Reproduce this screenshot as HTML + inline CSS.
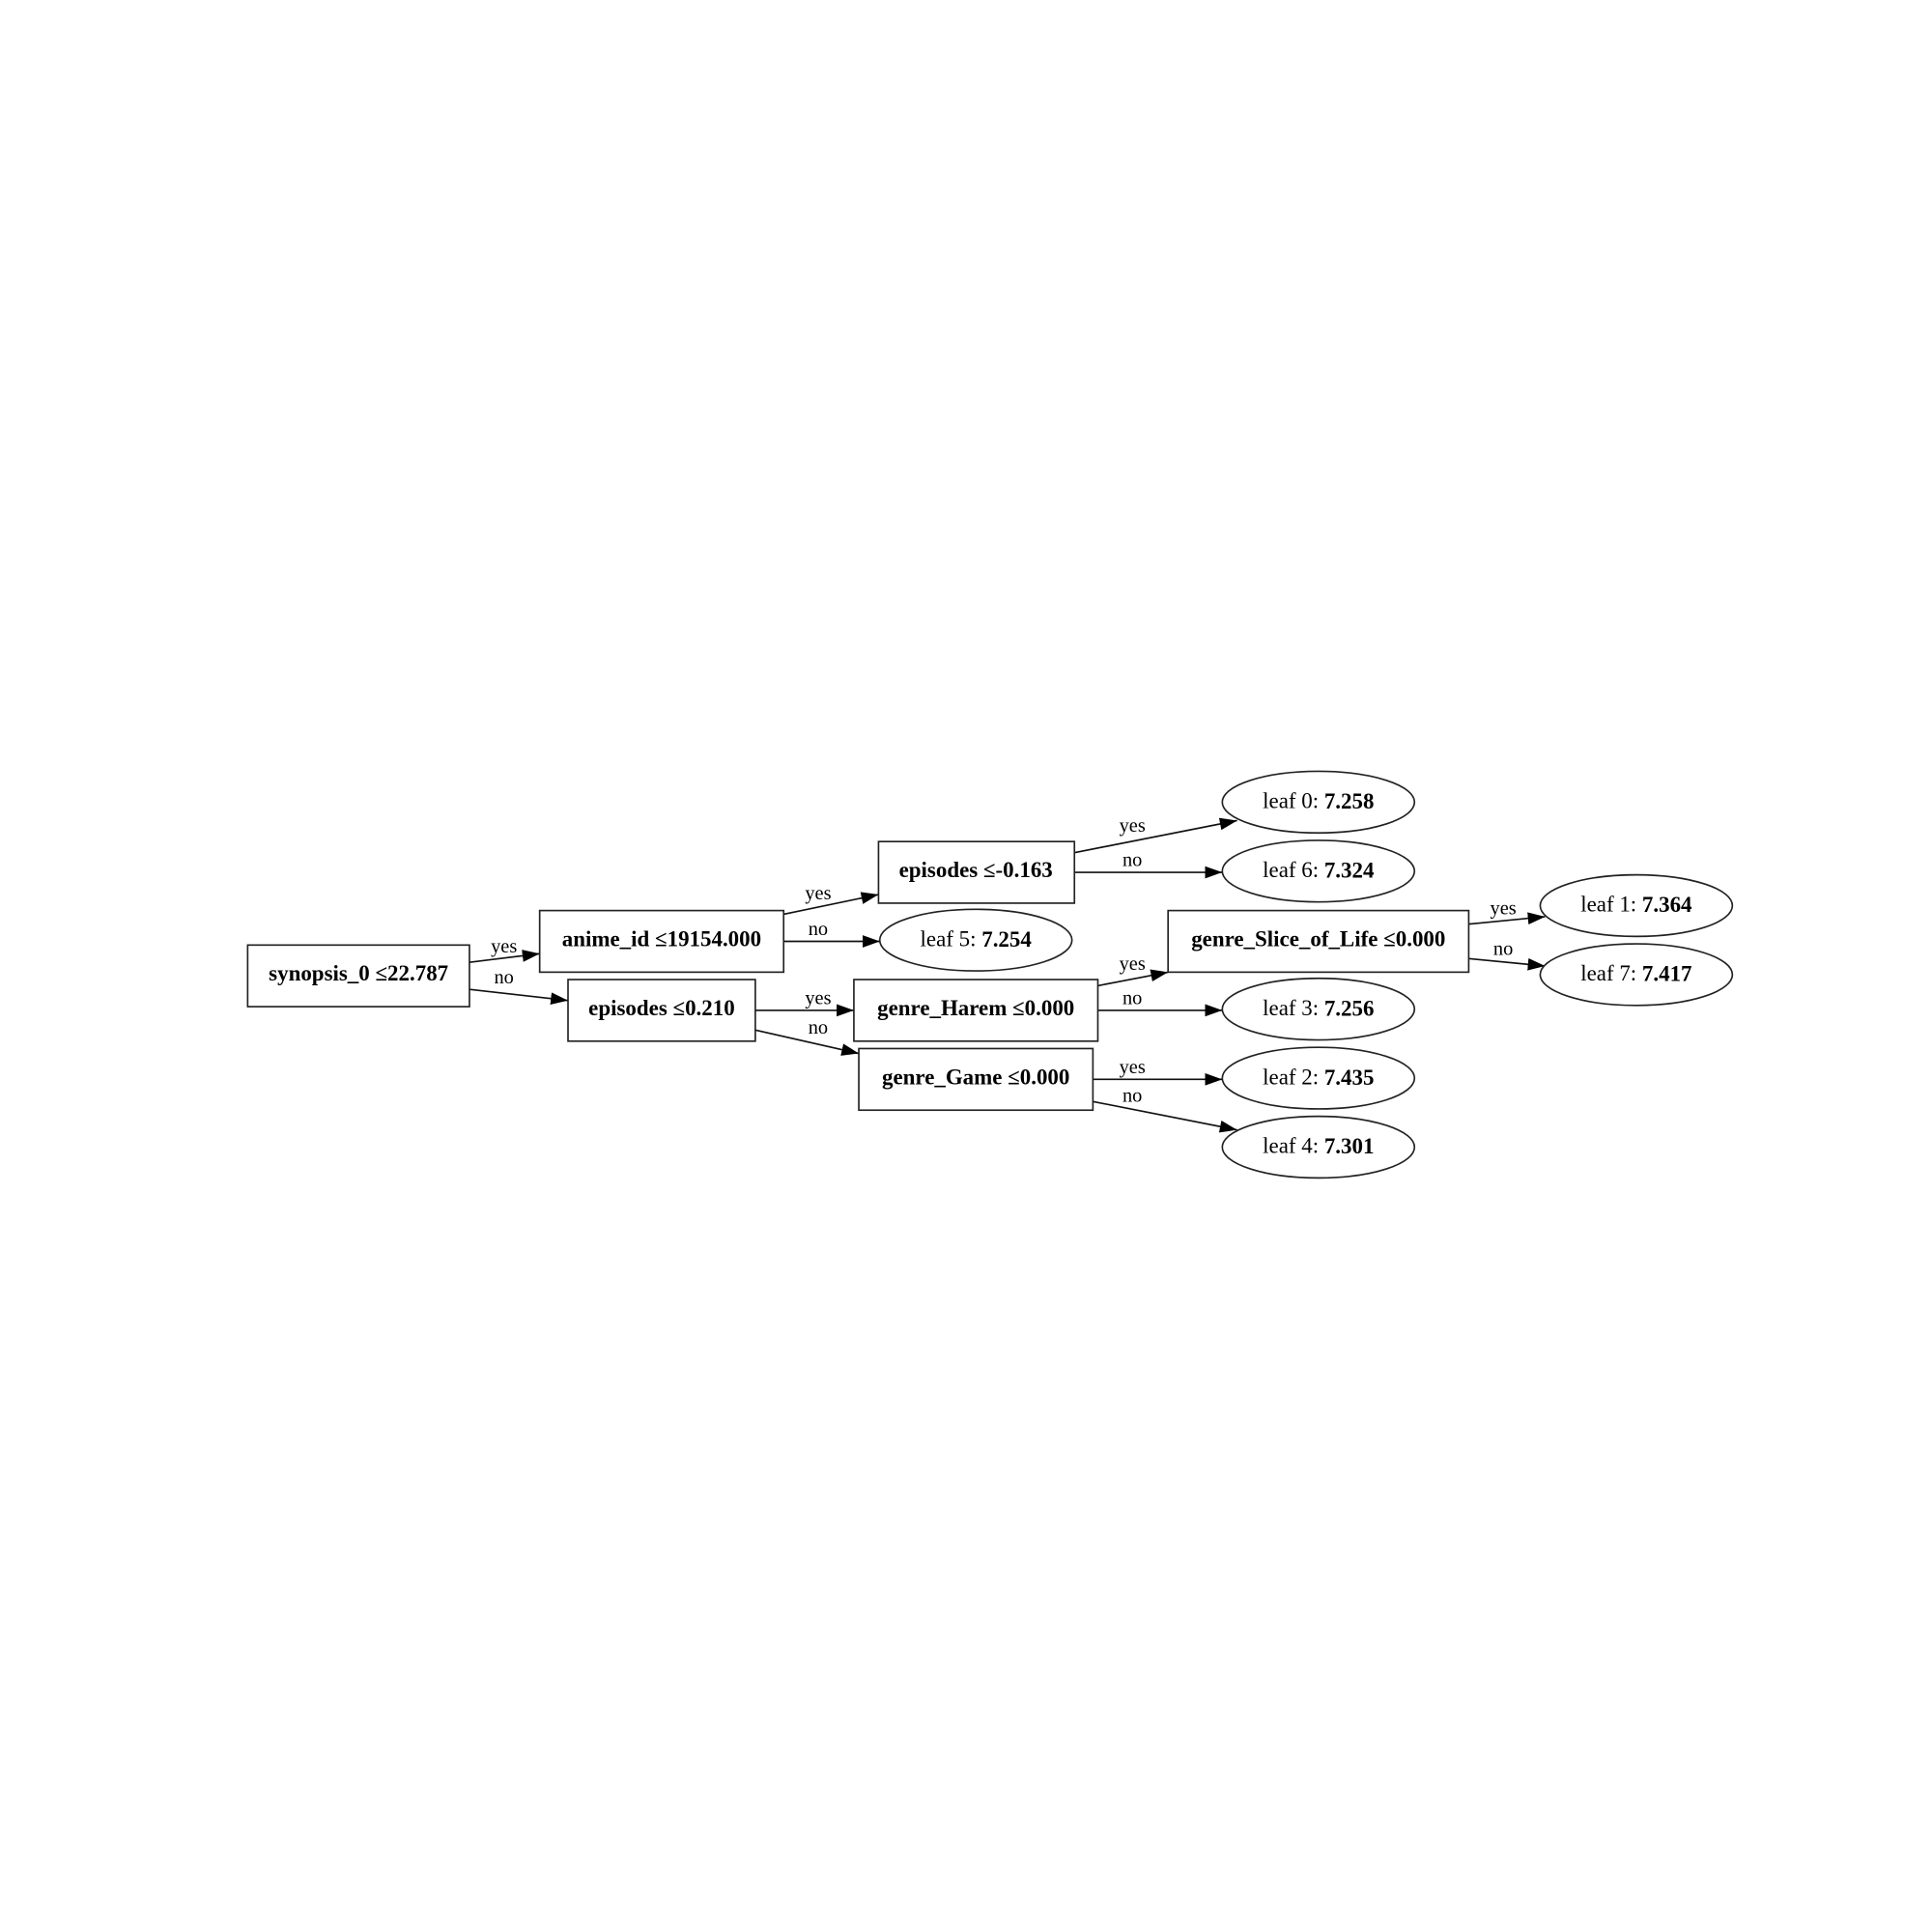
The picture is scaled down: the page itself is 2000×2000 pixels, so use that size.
<!DOCTYPE html>
<html><head><meta charset="utf-8"><style>
html,body{margin:0;padding:0;background:#fff;}
svg{display:block}
text{font-family:"Liberation Serif",serif;fill:#000}
.n{font-size:18px;font-weight:bold;text-anchor:middle;dominant-baseline:central}
.l{font-size:18px;text-anchor:middle;dominant-baseline:central}
.e{font-size:16px;text-anchor:middle}
rect,ellipse{fill:#fff;stroke:#222;stroke-width:1.3}
line{stroke:#111;stroke-width:1.3}
</style></head><body>
<svg width="2000" height="2000" viewBox="0 0 1568 1568" xmlns="http://www.w3.org/2000/svg">
<defs><marker id="a" viewBox="0 0 14 10" refX="14" refY="5" markerWidth="14" markerHeight="10" markerUnits="userSpaceOnUse" orient="auto"><path d="M0,0 L14,5 L0,10 Z" fill="#000"/></marker></defs>
<g>
<line x1="381" y1="781" x2="438" y2="774" marker-end="url(#a)"/>
<line x1="381" y1="803" x2="461" y2="812" marker-end="url(#a)"/>
<line x1="636" y1="742" x2="713" y2="726" marker-end="url(#a)"/>
<line x1="636" y1="764" x2="714" y2="764" marker-end="url(#a)"/>
<line x1="872" y1="692" x2="1004" y2="666" marker-end="url(#a)"/>
<line x1="872" y1="708" x2="992" y2="708" marker-end="url(#a)"/>
<line x1="613" y1="820" x2="693" y2="820" marker-end="url(#a)"/>
<line x1="613" y1="836" x2="697" y2="855" marker-end="url(#a)"/>
<line x1="891" y1="800" x2="948" y2="789" marker-end="url(#a)"/>
<line x1="891" y1="820" x2="992" y2="820" marker-end="url(#a)"/>
<line x1="887" y1="876" x2="992" y2="876" marker-end="url(#a)"/>
<line x1="887" y1="894" x2="1004" y2="917" marker-end="url(#a)"/>
<line x1="1192" y1="750" x2="1254" y2="744" marker-end="url(#a)"/>
<line x1="1192" y1="778" x2="1254" y2="784" marker-end="url(#a)"/>
</g>
<g>
<text class="e" x="409" y="773">yes</text><text class="e" x="409" y="798">no</text>
<text class="e" x="664" y="730">yes</text><text class="e" x="664" y="759">no</text>
<text class="e" x="919" y="675">yes</text><text class="e" x="919" y="703">no</text>
<text class="e" x="664" y="815">yes</text><text class="e" x="664" y="839">no</text>
<text class="e" x="919" y="787">yes</text><text class="e" x="919" y="815">no</text>
<text class="e" x="919" y="871">yes</text><text class="e" x="919" y="894">no</text>
<text class="e" x="1220" y="742">yes</text><text class="e" x="1220" y="775">no</text>
</g>
<rect x="201" y="767" width="180" height="50"/><text class="n" x="291" y="790">synopsis_0 ≤22.787</text>
<rect x="438" y="739" width="198" height="50"/><text class="n" x="537" y="762">anime_id ≤19154.000</text>
<rect x="461" y="795" width="152" height="50"/><text class="n" x="537" y="818">episodes ≤0.210</text>
<rect x="713" y="683" width="159" height="50"/><text class="n" x="792" y="706">episodes ≤-0.163</text>
<rect x="693" y="795" width="198" height="50"/><text class="n" x="792" y="818">genre_Harem ≤0.000</text>
<rect x="697" y="851" width="190" height="50"/><text class="n" x="792" y="874">genre_Game ≤0.000</text>
<rect x="948" y="739" width="244" height="50"/><text class="n" x="1070" y="762">genre_Slice_of_Life ≤0.000</text>
<ellipse cx="792" cy="763" rx="78" ry="25"/><text class="l" x="792" y="762">leaf 5: <tspan font-weight="bold">7.254</tspan></text>
<ellipse cx="1070" cy="651" rx="78" ry="25"/><text class="l" x="1070" y="650">leaf 0: <tspan font-weight="bold">7.258</tspan></text>
<ellipse cx="1070" cy="707" rx="78" ry="25"/><text class="l" x="1070" y="706">leaf 6: <tspan font-weight="bold">7.324</tspan></text>
<ellipse cx="1070" cy="819" rx="78" ry="25"/><text class="l" x="1070" y="818">leaf 3: <tspan font-weight="bold">7.256</tspan></text>
<ellipse cx="1070" cy="875" rx="78" ry="25"/><text class="l" x="1070" y="874">leaf 2: <tspan font-weight="bold">7.435</tspan></text>
<ellipse cx="1070" cy="931" rx="78" ry="25"/><text class="l" x="1070" y="930">leaf 4: <tspan font-weight="bold">7.301</tspan></text>
<ellipse cx="1328" cy="735" rx="78" ry="25"/><text class="l" x="1328" y="734">leaf 1: <tspan font-weight="bold">7.364</tspan></text>
<ellipse cx="1328" cy="791" rx="78" ry="25"/><text class="l" x="1328" y="790">leaf 7: <tspan font-weight="bold">7.417</tspan></text>
</svg>
</body></html>
